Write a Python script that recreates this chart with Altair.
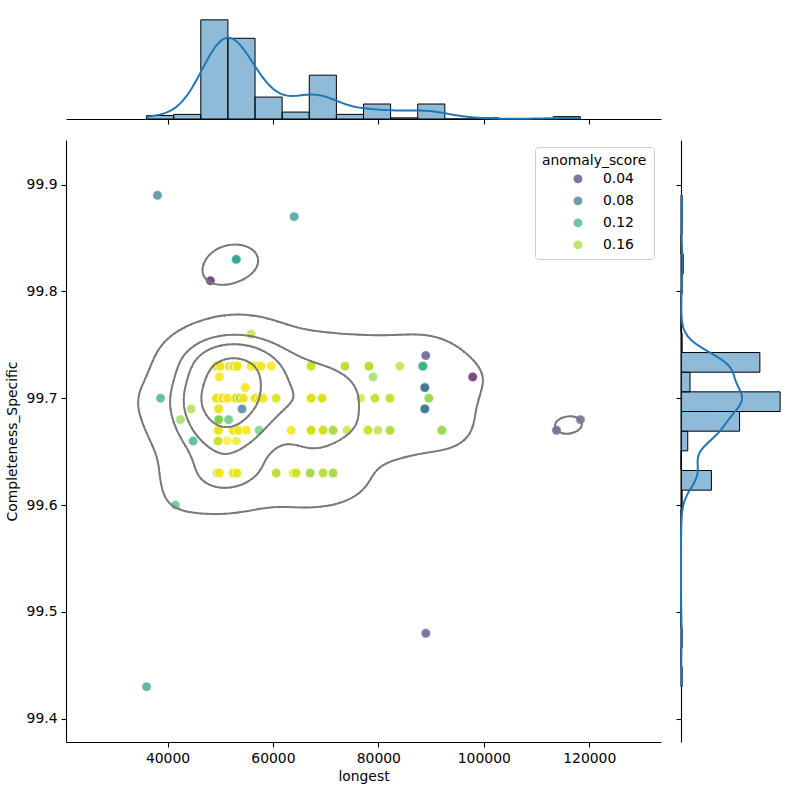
import numpy as np
import pandas as pd
import altair as alt

# Distinct observations: "longest", "Completeness_Specific", anomaly score,
# and how many records share that exact combination.
longest = [36030, 38100, 38680, 41500, 42460, 44480, 44860,
           48140, 49270, 50030, 49840, 49270, 50400, 51340, 49710, 49710, 49650, 49590, 51300, 49400, 49840,
           53050, 55890, 51730, 52490, 53240, 55890, 56460, 54760, 52860, 53800, 54380, 54130, 51600, 52490,
           53430, 54950, 53050, 52490, 53190,
           57220, 57780, 59680, 56650, 57600, 58160, 60620, 57400, 60620,
           63460, 63840, 64410, 64030,
           67240, 67240, 67240, 67060, 69320, 69510, 69510, 71410, 71410,
           73670, 74060, 76650,
           78220, 78980, 79350, 82190, 78030, 79920, 82190,
           84080,
           88440, 88990, 88810, 89570, 88810, 89000, 92030,
           97900, 113790, 118330]
completeness = [99.43, 99.89, 99.70, 99.60, 99.68, 99.69, 99.66,
                99.81, 99.73, 99.73, 99.72, 99.70, 99.70, 99.70, 99.69, 99.68, 99.67, 99.66, 99.66, 99.63, 99.63,
                99.83, 99.76, 99.73, 99.73, 99.73, 99.73, 99.73, 99.71, 99.70, 99.70, 99.70, 99.69, 99.68, 99.67,
                99.67, 99.67, 99.66, 99.63, 99.63,
                99.73, 99.73, 99.73, 99.70, 99.70, 99.70, 99.70, 99.67, 99.63,
                99.67, 99.63, 99.63, 99.87,
                99.73, 99.70, 99.67, 99.63, 99.70, 99.67, 99.63, 99.67, 99.63,
                99.73, 99.67, 99.70,
                99.73, 99.72, 99.70, 99.70, 99.67, 99.67, 99.67,
                99.73,
                99.73, 99.74, 99.71, 99.70, 99.69, 99.48, 99.67,
                99.72, 99.67, 99.68]
anomaly_score = [0.105, 0.075, 0.115, 0.13, 0.155, 0.16, 0.115,
                 0.011, 0.178, 0.18, 0.182, 0.178, 0.18, 0.182, 0.178, 0.15, 0.178, 0.17, 0.184, 0.178, 0.18,
                 0.11, 0.165, 0.178, 0.18, 0.178, 0.182, 0.184, 0.182, 0.178, 0.16, 0.18, 0.07, 0.13, 0.178,
                 0.18, 0.182, 0.178, 0.178, 0.178,
                 0.178, 0.182, 0.184, 0.178, 0.178, 0.18, 0.175, 0.14, 0.165,
                 0.182, 0.175, 0.172, 0.095,
                 0.17, 0.175, 0.172, 0.16, 0.175, 0.172, 0.165, 0.16, 0.16,
                 0.165, 0.168, 0.17,
                 0.165, 0.155, 0.168, 0.168, 0.17, 0.165, 0.162,
                 0.165,
                 0.125, 0.04, 0.075, 0.155, 0.075, 0.04, 0.155,
                 0.011, 0.04, 0.05]
repeats = [1, 1, 1, 1, 1, 1, 1,
           1, 10, 6, 2, 18, 7, 6, 6, 3, 12, 3, 1, 6, 5,
           2, 1, 8, 6, 8, 5, 4, 2, 6, 5, 4, 1, 1, 5,
           4, 2, 1, 3, 2,
           3, 2, 2, 3, 2, 2, 2, 1, 2,
           2, 1, 2, 1,
           6, 9, 5, 2, 6, 4, 2, 2, 2,
           2, 1, 1,
           3, 1, 2, 2, 2, 1, 2,
           1,
           3, 1, 2, 2, 2, 1, 2,
           1, 1, 1]

x_ticks = [40000, 60000, 80000, 100000, 120000]
y_ticks = [99.4, 99.5, 99.6, 99.7, 99.8, 99.9]
legend_scores = [0.04, 0.08, 0.12, 0.16]

FONT = "DejaVu Sans"
C0 = "#1f77b4"

xs = np.repeat(np.array(longest, dtype=float), repeats)
ys = np.repeat(np.array(completeness, dtype=float), repeats)
ss = np.repeat(np.array(anomaly_score, dtype=float), repeats)
n = len(xs)

# ---- bivariate gaussian KDE (Scott's rule) on a 200 x 200 grid ----
cov = np.cov(np.vstack([xs, ys])) * n ** (-1.0 / 3.0)
bw = np.sqrt(np.diag(cov))
gx = np.linspace(xs.min() - 3 * bw[0], xs.max() + 3 * bw[0], 200)
gy = np.linspace(ys.min() - 3 * bw[1], ys.max() + 3 * bw[1], 200)
inv = np.linalg.inv(cov)
norm = 1.0 / (n * 2 * np.pi * np.sqrt(np.linalg.det(cov)))
Z = np.empty((len(gy), len(gx)))
for j, yv in enumerate(gy):
    dx = gx[:, None] - xs[None, :]
    dy = yv - ys[None, :]
    q = inv[0, 0] * dx * dx + 2 * inv[0, 1] * dx * dy + inv[1, 1] * dy * dy
    Z[j] = np.exp(-0.5 * q).sum(axis=1) * norm

# iso-proportion levels
iso = np.linspace(0.05, 1, 5)
vals = np.sort(Z.ravel())[::-1]
cum = np.cumsum(vals) / vals.sum()
levels = np.take(vals, np.searchsorted(cum, 1 - iso), mode="clip")[:-1]

# ---- marching squares -> contour segments ----
def edge_point(e, i, j, v, L):
    v0, v1, v2, v3 = v
    if e == 0:
        t = (L - v0) / (v1 - v0)
        return gx[i] + t * (gx[i + 1] - gx[i]), gy[j]
    if e == 1:
        t = (L - v1) / (v2 - v1)
        return gx[i + 1], gy[j] + t * (gy[j + 1] - gy[j])
    if e == 2:
        t = (L - v3) / (v2 - v3)
        return gx[i] + t * (gx[i + 1] - gx[i]), gy[j + 1]
    t = (L - v0) / (v3 - v0)
    return gx[i], gy[j] + t * (gy[j + 1] - gy[j])

table = {1: [(3, 0)], 2: [(0, 1)], 3: [(3, 1)], 4: [(1, 2)], 6: [(0, 2)],
         7: [(3, 2)], 8: [(2, 3)], 9: [(0, 2)], 11: [(1, 2)], 12: [(1, 3)],
         13: [(0, 1)], 14: [(0, 3)]}

segments = []
for L in levels:
    A = (Z > L).astype(int)
    case = A[:-1, :-1] + 2 * A[:-1, 1:] + 4 * A[1:, 1:] + 8 * A[1:, :-1]
    for j, i in zip(*np.nonzero((case > 0) & (case < 15))):
        v = (Z[j, i], Z[j, i + 1], Z[j + 1, i + 1], Z[j + 1, i])
        c = case[j, i]
        if c in (5, 10):
            centre_above = np.mean(v) > L
            if (c == 5) == centre_above:
                pairs = [(0, 1), (2, 3)]
            else:
                pairs = [(3, 0), (1, 2)]
        else:
            pairs = table[c]
        for a, b in pairs:
            p1 = edge_point(a, i, j, v, L)
            p2 = edge_point(b, i, j, v, L)
            segments.append((p1[0], p1[1], p2[0], p2[1]))
seg_df = pd.DataFrame(segments, columns=["sx", "sy", "ex", "ey"])

# ---- marginal histograms and KDE curves ----
def kde1d(v, grid):
    h = v.std(ddof=1) * len(v) ** (-0.2)
    d = (grid[:, None] - v[None, :]) / h
    return np.exp(-0.5 * d * d).sum(axis=1) / (len(v) * h * np.sqrt(2 * np.pi))

cx, ex_edges = np.histogram(xs, bins=16)
cy, ey_edges = np.histogram(ys, bins=25)
hx = pd.DataFrame({"start": ex_edges[:-1], "end": ex_edges[1:], "count": cx})
hy = pd.DataFrame({"start": ey_edges[:-1], "end": ey_edges[1:], "count": cy})
kgx = np.linspace(xs.min(), xs.max(), 200)
kgy = np.linspace(ys.min(), ys.max(), 200)
kx = pd.DataFrame({"v": kgx, "d": kde1d(xs, kgx) * n * (ex_edges[1] - ex_edges[0])})
ky = pd.DataFrame({"v": kgy, "d": kde1d(ys, kgy) * n * (ey_edges[1] - ey_edges[0])})

xscale = alt.Scale(domain=[float(gx[0]), float(gx[-1])], nice=False, zero=False)
yscale = alt.Scale(domain=[float(gy[0]), float(gy[-1])], nice=False, zero=False)

# ---- joint panel ----
pts = pd.DataFrame({"longest": xs, "Completeness_Specific": ys, "anomaly_score": ss})
scatter = alt.Chart(pts).mark_circle(size=90, opacity=0.7, stroke="white", strokeWidth=0.6).encode(
    x=alt.X("longest:Q", scale=xscale,
            axis=alt.Axis(values=x_ticks, format="d", title="longest", titlePadding=5)),
    y=alt.Y("Completeness_Specific:Q", scale=yscale,
            axis=alt.Axis(values=y_ticks, format=".1f", title="Completeness_Specific", titlePadding=7)),
    color=alt.Color("anomaly_score:Q",
                    scale=alt.Scale(scheme="viridis", domain=[float(ss.min()), float(ss.max())]),
                    legend=alt.Legend(type="symbol", values=legend_scores, format=".2f",
                                      title="anomaly_score", orient="top-right", offset=7,
                                      titleFontSize=13.9, titleFontWeight="normal", titleFont=FONT,
                                      titleColor="black", titlePadding=4,
                                      labelFontSize=13.9, labelFont=FONT, labelColor="black",
                                      symbolType="circle", symbolSize=80, symbolOpacity=0.7,
                                      symbolStrokeWidth=0, symbolOffset=29, labelOffset=18,
                                      rowPadding=7, padding=7, cornerRadius=3,
                                      strokeColor="#cccccc", fillColor="white")),
)
contours = alt.Chart(seg_df).mark_rule(color="#7a7a7a", strokeWidth=1.9, strokeCap="round").encode(
    x=alt.X("sx:Q", scale=xscale), x2="ex",
    y=alt.Y("sy:Q", scale=yscale), y2="ey",
)
main = alt.layer(scatter, contours).properties(width=595, height=602)

# ---- top marginal ----
top_bars = alt.Chart(hx).mark_rect(fill=C0, fillOpacity=0.5, stroke="black", strokeWidth=1).encode(
    x=alt.X("start:Q", scale=xscale, axis=alt.Axis(values=x_ticks, labels=False, title=None)),
    x2="end",
    y=alt.Y("count:Q", scale=alt.Scale(domain=[0, 1.2 * float(cx.max())], nice=False), axis=None),
    y2=alt.datum(0),
)
top_kde = alt.Chart(kx).mark_line(color=C0, strokeWidth=2).encode(
    x=alt.X("v:Q", scale=xscale), y=alt.Y("d:Q")
)
top = alt.layer(top_bars, top_kde).properties(width=595, height=119)

# ---- right marginal ----
right_bars = alt.Chart(hy).mark_rect(fill=C0, fillOpacity=0.5, stroke="black", strokeWidth=1).encode(
    y=alt.Y("start:Q", scale=yscale, axis=alt.Axis(values=y_ticks, labels=False, title=None)),
    y2="end",
    x=alt.X("count:Q", scale=alt.Scale(domain=[0, 1.18 * float(cy.max())], nice=False), axis=None),
    x2=alt.datum(0),
)
right_kde = alt.Chart(ky).mark_line(color=C0, strokeWidth=2).encode(
    y=alt.Y("v:Q", scale=yscale), x=alt.X("d:Q"), order="v:Q"
)
right = alt.layer(right_bars, right_kde).properties(width=117, height=602)

lower = alt.hconcat(main, right, spacing=20, bounds="flush").resolve_scale(
    color="independent").resolve_legend(color="independent")

chart = alt.vconcat(top, lower, spacing=21, bounds="flush").resolve_scale(
    color="independent").resolve_legend(color="independent").properties(
    padding={"left": 5, "top": 0, "right": 0, "bottom": 0}
).configure_view(strokeWidth=0).configure_axis(
    grid=False, domainColor="black", domainWidth=1.1, tickColor="black", tickWidth=1.1, tickSize=5,
    labelColor="black", titleColor="black", labelFontSize=13.9, titleFontSize=13.9,
    titleFontWeight="normal", labelFont=FONT, titleFont=FONT, labelPadding=4,
)

chart.save("out.html", embed_options={"renderer": "svg", "actions": False})
